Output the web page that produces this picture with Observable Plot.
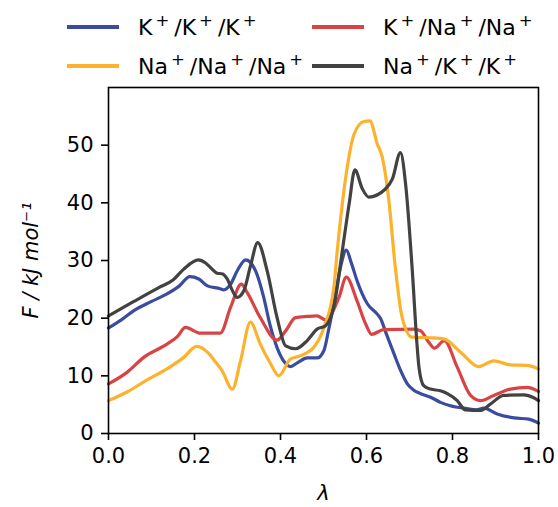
<!DOCTYPE html>
<html>
<head>
<meta charset="utf-8">
<script src="https://cdn.jsdelivr.net/npm/d3@7"></script>
<script src="https://cdn.jsdelivr.net/npm/@observablehq/plot@0.6"></script>
<style>
  html, body { margin: 0; padding: 0; background: #fff; }
  #wrap { position: relative; width: 558px; height: 507px; font-family: "DejaVu Sans", sans-serif; }
  #legend { position: relative; width: 558px; height: 80px; }
  .item { position: absolute; display: flex; align-items: center; font-size: 22px; color: #000; white-space: nowrap; }
  .swatch { display: inline-block; width: 52px; height: 3.4px; margin-right: 19px; }
  sup { font-size: 75%; vertical-align: 0.5em; line-height: 0; padding-left: 3px; padding-right: 5px; }
  svg [aria-label="x-axis label"] text, svg [aria-label="y-axis label"] text { font-style: italic; }
</style>
</head>
<body>
<div id="wrap">
  <div id="legend"></div>
  <div id="chart"></div>
</div>
<script>
// ---- data ----
const seriesNames = ["K+/K+/K+", "K+/Na+/Na+", "Na+/Na+/Na+", "Na+/K+/K+"];
const seriesColors = ["#3A4CA0", "#D84444", "#FDB22E", "#424242"];

const kkkLam = [0.00,0.03,0.059,0.10,0.136,0.165,0.189,0.21,0.23,0.26,0.268,0.284,0.30,0.319,0.342,0.361,0.375,0.392,0.41,0.423,0.44,0.462,0.485,0.501,0.512,0.524,0.54,0.553,0.565,0.578,0.602,0.625,0.633,0.645,0.664,0.68,0.695,0.71,0.726,0.749,0.772,0.795,0.834,0.855,0.873,0.904,0.943,0.977,1.0];
const kkkF   = [18.3,19.7,21.3,22.9,24.2,25.6,27.2,26.8,25.6,25.1,24.9,25.9,28.3,30.1,28.2,23.6,19.0,14.9,12.3,11.6,12.3,13.1,13.1,14.4,18.0,22.5,29.0,31.8,29.5,26.5,22.5,20.7,19.9,17.5,13.8,10.8,8.6,7.5,6.9,6.3,5.4,4.8,4.3,4.1,4.4,3.4,2.7,2.5,1.8];

const knnLam = [0.00,0.043,0.082,0.136,0.16,0.179,0.214,0.237,0.26,0.284,0.309,0.322,0.353,0.392,0.412,0.435,0.462,0.485,0.505,0.536,0.553,0.578,0.598,0.612,0.64,0.71,0.726,0.745,0.758,0.781,0.811,0.842,0.865,0.896,0.935,0.974,1.0];
const knnF   = [8.6,10.6,13.2,15.5,16.8,18.4,17.4,17.4,17.4,21.9,25.9,24.5,20.1,16.2,17.8,20.1,20.3,20.4,19.7,23.6,27.1,23.0,19.0,17.2,18.0,18.1,17.8,15.8,14.8,16.1,11.5,6.6,5.7,6.6,7.7,8.0,7.3];

const nnnLam = [0.00,0.043,0.09,0.136,0.175,0.205,0.23,0.25,0.264,0.288,0.307,0.33,0.353,0.377,0.396,0.423,0.447,0.477,0.501,0.524,0.532,0.555,0.571,0.594,0.608,0.625,0.636,0.652,0.667,0.683,0.706,0.749,0.78,0.819,0.861,0.896,0.935,0.974,1.0];
const nnnF   = [5.7,7.2,9.3,11.2,13.2,15.1,14.1,12.3,10.9,7.7,12.6,19.3,15.5,12.1,10.0,12.9,13.5,14.9,18.4,25.3,31.7,46.1,51.9,54.1,54.2,50.2,48.1,40.4,28.8,20.1,16.7,16.6,16.4,14.1,11.6,12.6,11.9,11.8,11.2];

const nkkLam = [0.00,0.059,0.117,0.15,0.175,0.209,0.225,0.237,0.253,0.264,0.276,0.29,0.299,0.315,0.33,0.347,0.369,0.392,0.412,0.435,0.462,0.485,0.505,0.524,0.547,0.56,0.573,0.59,0.605,0.644,0.66,0.679,0.691,0.706,0.718,0.722,0.733,0.749,0.772,0.788,0.811,0.83,0.865,0.888,0.919,0.966,0.989,1.0];
const nkkF   = [20.4,22.9,25.3,26.6,28.5,30.1,29.6,28.8,27.8,27.7,26.8,24.5,23.6,24.8,29.0,33.1,28.2,20.1,15.2,14.7,16.1,18.1,18.7,22.0,33.4,40.0,45.7,42.5,41.0,42.4,44.1,48.7,43.2,28.8,14.9,11.5,8.3,7.7,7.4,6.9,5.7,4.1,4.0,5.1,6.6,6.7,6.2,5.7];

const xTicks = [0, 0.2, 0.4, 0.6, 0.8, 1.0];
const yTicks = [0, 10, 20, 30, 40, 50];

// ---- build rows ----
const toRows = (lam, F, s) => lam.map((l, i) => ({lam: l, F: F[i], s}));
const rows = [
  ...toRows(kkkLam, kkkF, seriesNames[0]),
  ...toRows(knnLam, knnF, seriesNames[1]),
  ...toRows(nnnLam, nnnF, seriesNames[2]),
  ...toRows(nkkLam, nkkF, seriesNames[3])
];

// ---- legend (HTML) ----
const legendPos = [
  {left: 67, top: 27}, {left: 312, top: 27}, {left: 67, top: 66}, {left: 312, top: 66}
];
const legend = document.getElementById("legend");
seriesNames.forEach((name, i) => {
  const it = document.createElement("div");
  it.className = "item";
  it.style.left = legendPos[i].left + "px";
  it.style.top = (legendPos[i].top - 14) + "px";
  it.style.height = "28px";
  const sw = document.createElement("span");
  sw.className = "swatch";
  sw.style.background = seriesColors[i];
  const tx = document.createElement("span");
  tx.innerHTML = name.replace(/\+/g, "<sup>+</sup>");
  it.appendChild(sw); it.appendChild(tx);
  legend.appendChild(it);
});

// ---- chart ----
const chart = Plot.plot({
  width: 558,
  height: 427,
  marginTop: 7,
  marginBottom: 74,
  marginLeft: 108,
  marginRight: 20,
  style: {fontFamily: "DejaVu Sans, sans-serif", fontSize: "21px", color: "#000", background: "#fff", overflow: "visible"},
  x: {domain: [0, 1]},
  y: {domain: [0, 60]},
  color: {domain: seriesNames, range: seriesColors},
  marks: [
    Plot.line(rows, {x: "lam", y: "F", z: "s", stroke: "s", strokeWidth: 3.2, curve: "monotone-x"}),
    Plot.frame({stroke: "#000", strokeWidth: 1.6}),
    Plot.axisX({ticks: xTicks, tickFormat: d3.format(".1f"), tickSize: 7, tickPadding: 8, strokeWidth: 1.6,
      label: "λ", labelAnchor: "center", labelArrow: "none", labelOffset: 66}),
    Plot.axisY({ticks: yTicks, tickFormat: d3.format("d"), tickSize: 7, tickPadding: 8, strokeWidth: 1.6,
      label: "F / kJ mol⁻¹", labelAnchor: "center", labelArrow: "none", labelOffset: 85})
  ]
});
document.getElementById("chart").appendChild(chart);
</script>
</body>
</html>
